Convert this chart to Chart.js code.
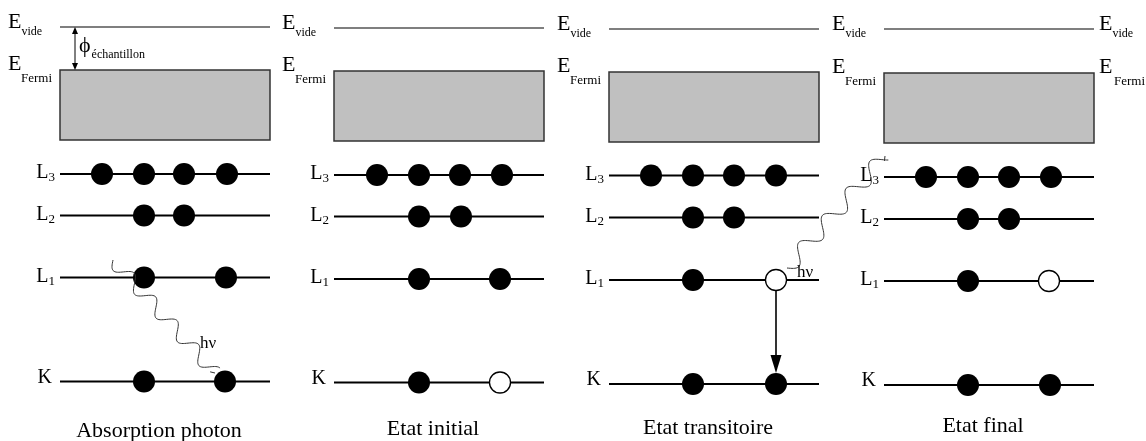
<!DOCTYPE html>
<html>
<head>
<meta charset="utf-8">
<script src="https://cdn.jsdelivr.net/npm/chart.js@4/dist/chart.umd.min.js"></script>
<style>
  html, body { margin: 0; padding: 0; background: #fff; }
  #wrap { width: 1146px; height: 441px; }
</style>
</head>
<body>
<div id="wrap"><canvas id="diagramme"></canvas></div>
<script>
// Données du diagramme (unités = coordonnées de la figure)
const panelTitles = ['Absorption photon', 'Etat initial', 'Etat transitoire', 'Etat final'];
const panelLeft = [60, 334, 609, 884];
const panelRight = [270, 544, 819, 1094];
const vacuumLevel = [27, 28, 29, 29];
const fermiLevel = [70, 71, 72, 73];
const bandBottom = [140, 141, 142, 143];
const levelL3 = [174, 175, 175.5, 177];
const levelL2 = [215.5, 216.5, 217.5, 219];
const levelL1 = [277.5, 279, 280, 281];
const levelK = [381.5, 382.5, 384, 385];

// électrons (x) sur chaque niveau, panneau par panneau
const electronsL3 = [[102, 144, 184, 227], [377, 419, 460, 502], [651, 693, 734, 776], [926, 968, 1009, 1051]];
const electronsL2 = [[144, 184], [419, 461], [693, 734], [968, 1009]];
const electronsL1 = [[144, 226], [419, 500], [693], [968]];
const electronsK = [[144, 225], [419], [693, 776], [968, 1050]];
// lacunes
const holesL1 = [[], [], [776], [1049]];
const holesK = [[], [500], [], []];

// photons : départ -> arrivée
const photonStart = [{ x: 113, y: 260 }, { x: 787, y: 268 }];
const photonEnd = [{ x: 215, y: 373 }, { x: 885, y: 156 }];
// transition L1 -> K dans l'état transitoire (panneau 2)
const transitionPanel = 2;
const transitionX = 776;
const workFunctionX = 75;

const LEVELS = [levelL3, levelL2, levelL1, levelK];
const SERIF = '"Liberation Serif", "Times New Roman", serif';

function segment(x0, x1, y, w) {
  return {
    data: [{ x: x0, y: y }, { x: x1, y: y }],
    showLine: true, borderColor: '#000', borderWidth: w,
    pointRadius: 0, order: 2
  };
}

const datasets = [];
panelLeft.forEach((l, i) => {
  datasets.push(segment(l, panelRight[i], vacuumLevel[i], 1.1));
  LEVELS.forEach(lv => datasets.push(segment(l, panelRight[i], lv[i], 2)));
});

const filled = [];
const empty = [];
[electronsL3, electronsL2, electronsL1, electronsK].forEach((lvl, k) => {
  lvl.forEach((xs, i) => xs.forEach(x => filled.push({ x: x, y: LEVELS[k][i] })));
});
holesL1.forEach((xs, i) => xs.forEach(x => empty.push({ x: x, y: levelL1[i] })));
holesK.forEach((xs, i) => xs.forEach(x => empty.push({ x: x, y: levelK[i] })));

datasets.push({ data: filled, pointRadius: 11, backgroundColor: '#000', borderWidth: 0, order: 0 });
datasets.push({ data: empty, pointRadius: 10.5, backgroundColor: '#fff', borderColor: '#000', borderWidth: 1.3, order: 0 });

// texte avec indice
function withSub(ctx, x, y, main, small, mainPx, smallPx, dy, dx) {
  ctx.font = mainPx + 'px ' + SERIF;
  ctx.fillText(main, x, y);
  const w = ctx.measureText(main).width;
  ctx.font = smallPx + 'px ' + SERIF;
  ctx.fillText(small, x + w + (dx || 0), y + dy);
}
function subWidth(ctx, main, small, mainPx, smallPx) {
  ctx.font = mainPx + 'px ' + SERIF;
  const a = ctx.measureText(main).width;
  ctx.font = smallPx + 'px ' + SERIF;
  return a + ctx.measureText(small).width;
}

function arrowHead(ctx, x, y, ang, len, half) {
  ctx.beginPath();
  ctx.moveTo(x, y);
  ctx.lineTo(x - len * Math.cos(ang) + half * Math.sin(ang), y - len * Math.sin(ang) - half * Math.cos(ang));
  ctx.lineTo(x - len * Math.cos(ang) - half * Math.sin(ang), y - len * Math.sin(ang) + half * Math.cos(ang));
  ctx.closePath();
  ctx.fill();
}

function wavy(ctx, a, b, amp, wl) {
  const dx = b.x - a.x, dy = b.y - a.y;
  const L = Math.hypot(dx, dy);
  const ux = dx / L, uy = dy / L, nx = -uy, ny = ux;
  ctx.beginPath();
  for (let s = 0; s <= L; s += 1) {
    const o = amp * Math.sin(2 * Math.PI * s / wl);
    const px = a.x + ux * s + nx * o, py = a.y + uy * s + ny * o;
    if (s === 0) ctx.moveTo(px, py); else ctx.lineTo(px, py);
  }
  ctx.stroke();
  // petite flèche
  const ang = Math.atan2(dy, dx);
  ctx.beginPath();
  ctx.moveTo(b.x, b.y);
  ctx.lineTo(b.x - 5 * Math.cos(ang - 0.6), b.y - 5 * Math.sin(ang - 0.6));
  ctx.stroke();
}

const diagramPlugin = {
  id: 'diagramme',
  beforeDatasetsDraw(chart) {
    const { ctx, scales: { x, y } } = chart;
    ctx.save();
    panelLeft.forEach((l, i) => {
      const x0 = x.getPixelForValue(l), x1 = x.getPixelForValue(panelRight[i]);
      const y0 = y.getPixelForValue(fermiLevel[i]), y1 = y.getPixelForValue(bandBottom[i]);
      ctx.fillStyle = '#c0c0c0';
      ctx.fillRect(x0, y0, x1 - x0, y1 - y0);
      ctx.strokeStyle = '#333';
      ctx.lineWidth = 1.5;
      ctx.strokeRect(x0, y0, x1 - x0, y1 - y0);
    });
    ctx.restore();
  },
  afterDatasetsDraw(chart) {
    const { ctx, scales: { x, y } } = chart;
    ctx.save();
    ctx.fillStyle = '#000';
    ctx.strokeStyle = '#000';
    ctx.textBaseline = 'alphabetic';
    ctx.textAlign = 'left';

    panelLeft.forEach((l, i) => {
      const px = x.getPixelForValue(l);
      // E vide / E Fermi
      withSub(ctx, px - 52, y.getPixelForValue(vacuumLevel[i]) + 1, 'E', 'vide', 22, 12, 7);
      ctx.font = '22px ' + SERIF;
      ctx.fillText('E', px - 52, y.getPixelForValue(fermiLevel[i]));
      ctx.font = '13px ' + SERIF;
      ctx.fillText('Fermi', px - 39, y.getPixelForValue(fermiLevel[i]) + 12);

      // niveaux L3, L2, L1, K
      [['L', '3'], ['L', '2'], ['L', '1']].forEach((lab, k) => {
        const w = subWidth(ctx, lab[0], lab[1], 20, 13);
        withSub(ctx, px - 5 - w, y.getPixelForValue(LEVELS[k][i]) + 4, lab[0], lab[1], 20, 13, 3);
      });
      ctx.font = '20px ' + SERIF;
      const kw = ctx.measureText('K').width;
      ctx.fillText('K', px - 8 - kw, y.getPixelForValue(levelK[i]) + 1);

      // titre
      ctx.font = '22px ' + SERIF;
      ctx.textAlign = 'center';
      const cx = (px + x.getPixelForValue(panelRight[i])) / 2 - 6;
      ctx.fillText(panelTitles[i], cx, y.getPixelForValue(levelK[0]) + 55 - 1.4 * i);
      ctx.textAlign = 'left';
    });

    // étiquettes à droite du dernier panneau
    const last = panelRight.length - 1;
    const rx = x.getPixelForValue(panelRight[last]) + 5;
    withSub(ctx, rx, y.getPixelForValue(vacuumLevel[last]) + 1, 'E', 'vide', 22, 12, 7);
    ctx.font = '22px ' + SERIF;
    ctx.fillText('E', rx, y.getPixelForValue(fermiLevel[last]));
    ctx.font = '13px ' + SERIF;
    ctx.fillText('Fermi', rx + 15, y.getPixelForValue(fermiLevel[last]) + 12);

    // travail de sortie
    const wx = x.getPixelForValue(workFunctionX);
    const wy0 = y.getPixelForValue(vacuumLevel[0]), wy1 = y.getPixelForValue(fermiLevel[0]);
    ctx.lineWidth = 1;
    ctx.beginPath();
    ctx.moveTo(wx, wy0 + 5);
    ctx.lineTo(wx, wy1 - 5);
    ctx.stroke();
    arrowHead(ctx, wx, wy0, -Math.PI / 2, 7, 3);
    arrowHead(ctx, wx, wy1, Math.PI / 2, 7, 3);
    withSub(ctx, wx + 4, wy0 + 25, '\u03D5', 'échantillon', 22, 12, 6, 1);

    // photons
    ctx.lineWidth = 1;
    ctx.strokeStyle = '#333';
    photonStart.forEach((s, k) => {
      const a = { x: x.getPixelForValue(s.x), y: y.getPixelForValue(s.y) };
      const b = { x: x.getPixelForValue(photonEnd[k].x), y: y.getPixelForValue(photonEnd[k].y) };
      wavy(ctx, a, b, k === 0 ? 7 : 8, k === 0 ? 32 : 36);
    });
    ctx.font = '17px ' + SERIF;
    ctx.fillText('h\u03BD', x.getPixelForValue(200), y.getPixelForValue(348));
    ctx.fillText('h\u03BD', x.getPixelForValue(797), y.getPixelForValue(277));

    // désexcitation K <- L1
    const tx = x.getPixelForValue(transitionX);
    const ty0 = y.getPixelForValue(levelL1[transitionPanel]) + 11;
    const ty1 = y.getPixelForValue(levelK[transitionPanel]) - 11;
    ctx.strokeStyle = '#000';
    ctx.lineWidth = 1.6;
    ctx.beginPath();
    ctx.moveTo(tx, ty0);
    ctx.lineTo(tx, ty1 - 14);
    ctx.stroke();
    arrowHead(ctx, tx, ty1, Math.PI / 2, 18, 5.5);
    ctx.restore();
  }
};

new Chart(document.getElementById('diagramme'), {
  type: 'scatter',
  data: { datasets: datasets },
  options: {
    responsive: true,
    maintainAspectRatio: false,
    animation: false,
    events: [],
    layout: { padding: 0, autoPadding: false },
    plugins: { legend: { display: false }, tooltip: { enabled: false } },
    scales: {
      x: { type: 'linear', min: 0, max: 1146, display: false },
      y: { type: 'linear', min: 0, max: 441, reverse: true, display: false }
    }
  },
  plugins: [diagramPlugin]
});
</script>
</body>
</html>
